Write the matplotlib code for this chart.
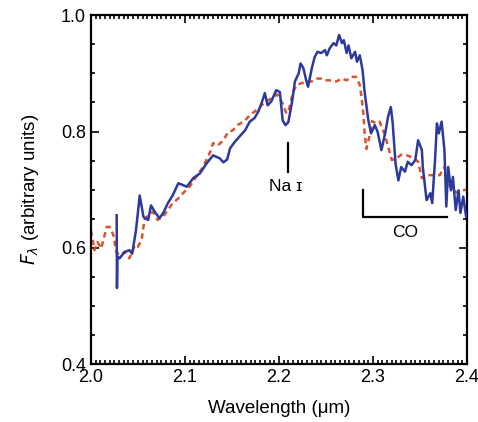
import matplotlib
matplotlib.use("Agg")
import matplotlib.pyplot as plt
from matplotlib.ticker import MultipleLocator

plt.rcParams['font.family'] = ['Liberation Sans', 'DejaVu Sans']

# observed spectrum (blue)
obs_wl = [2.0275, 2.0278, 2.0283, 2.0305, 2.036, 2.041, 2.044, 2.048, 2.052, 2.056,
          2.061, 2.064, 2.068, 2.073, 2.077, 2.082, 2.087, 2.093, 2.098, 2.102,
          2.109, 2.116, 2.123, 2.130, 2.137, 2.141, 2.145, 2.148, 2.153, 2.159,
          2.164, 2.169, 2.174, 2.178, 2.182, 2.185, 2.188, 2.192, 2.197, 2.201,
          2.204, 2.207, 2.210, 2.214, 2.217, 2.221, 2.223, 2.226, 2.229, 2.231,
          2.235, 2.238, 2.241, 2.245, 2.249, 2.251, 2.254, 2.258, 2.261, 2.264,
          2.267, 2.269, 2.272, 2.274, 2.277, 2.281, 2.283, 2.286, 2.289, 2.291,
          2.295, 2.298, 2.302, 2.305, 2.309, 2.313, 2.316, 2.319, 2.321, 2.324,
          2.327, 2.330, 2.334, 2.337, 2.341, 2.345, 2.348, 2.352, 2.353, 2.357,
          2.361, 2.363, 2.366, 2.368, 2.370, 2.373, 2.376, 2.378, 2.380, 2.383,
          2.385, 2.388, 2.391, 2.393, 2.396, 2.399]
obs_flux = [0.656, 0.531, 0.585, 0.582, 0.593, 0.596, 0.590, 0.630, 0.690, 0.653,
            0.648, 0.673, 0.662, 0.651, 0.660, 0.677, 0.690, 0.711, 0.708, 0.705,
            0.720, 0.728, 0.745, 0.759, 0.754, 0.747, 0.752, 0.771, 0.782, 0.793,
            0.802, 0.817, 0.823, 0.834, 0.851, 0.866, 0.845, 0.852, 0.871, 0.868,
            0.819, 0.811, 0.816, 0.851, 0.886, 0.900, 0.917, 0.909, 0.888, 0.877,
            0.909, 0.928, 0.937, 0.935, 0.940, 0.931, 0.943, 0.952, 0.948, 0.966,
            0.952, 0.957, 0.935, 0.948, 0.926, 0.937, 0.920, 0.931, 0.905, 0.870,
            0.820, 0.797, 0.811, 0.799, 0.768, 0.797, 0.825, 0.842, 0.814, 0.745,
            0.716, 0.739, 0.731, 0.748, 0.742, 0.751, 0.785, 0.768, 0.739, 0.682,
            0.694, 0.677, 0.751, 0.814, 0.797, 0.817, 0.768, 0.671, 0.739, 0.699,
            0.722, 0.665, 0.699, 0.660, 0.688, 0.654]

# model spectrum (red dashed)
mod_wl = [2.000, 2.004, 2.007, 2.011, 2.017, 2.020, 2.024, 2.027, 2.031, 2.036,
          2.041, 2.047, 2.050, 2.054, 2.057, 2.061, 2.066, 2.071, 2.077, 2.082,
          2.087, 2.093, 2.098, 2.105, 2.112, 2.119, 2.127, 2.130, 2.135, 2.141,
          2.146, 2.151, 2.156, 2.164, 2.169, 2.174, 2.180, 2.185, 2.190, 2.198,
          2.203, 2.208, 2.211, 2.215, 2.219, 2.224, 2.230, 2.235, 2.240, 2.245,
          2.251, 2.256, 2.261, 2.267, 2.272, 2.277, 2.282, 2.286, 2.288, 2.290,
          2.291, 2.293, 2.296, 2.299, 2.303, 2.307, 2.313, 2.320, 2.325, 2.330,
          2.336, 2.343, 2.348, 2.352, 2.357, 2.364, 2.371, 2.376, 2.382, 2.389,
          2.394, 2.400]
mod_flux = [0.630, 0.596, 0.610, 0.599, 0.636, 0.636, 0.622, 0.593, 0.587, 0.593,
            0.582, 0.605, 0.602, 0.613, 0.648, 0.656, 0.662, 0.648, 0.654, 0.665,
            0.677, 0.685, 0.694, 0.705, 0.722, 0.738, 0.765, 0.780, 0.776, 0.785,
            0.799, 0.802, 0.811, 0.819, 0.828, 0.834, 0.842, 0.851, 0.855, 0.864,
            0.851, 0.831, 0.840, 0.868, 0.880, 0.883, 0.886, 0.886, 0.891, 0.891,
            0.888, 0.888, 0.886, 0.891, 0.888, 0.894, 0.894, 0.880, 0.857, 0.828,
            0.800, 0.770, 0.790, 0.818, 0.814, 0.817, 0.793, 0.751, 0.754, 0.760,
            0.759, 0.755, 0.748, 0.720, 0.725, 0.725, 0.725, 0.739, 0.705, 0.695,
            0.699, 0.700]

fig = plt.figure(figsize=(4.78, 4.22), dpi=100)
ax = fig.add_axes([0.190, 0.137, 0.787, 0.827])

ax.plot(mod_wl, mod_flux, color='#d9532b', lw=1.8, ls=(0, (2.2, 1.6)), zorder=2)
ax.plot(obs_wl, obs_flux, color='#2b3a9c', lw=1.8, zorder=3)

# line identifications
ax.plot([2.2095, 2.2095], [0.730, 0.780], color='black', lw=1.6)
ax.text(2.2075, 0.706, 'Na ɪ', ha='center', va='center', fontsize=12.5)
ax.plot([2.2894, 2.2894, 2.379], [0.699, 0.653, 0.653], color='black', lw=1.6)
ax.text(2.334, 0.626, 'CO', ha='center', va='center', fontsize=12.5)

ax.set_xlim(2.0, 2.4)
ax.set_ylim(0.4, 1.0)
ax.xaxis.set_major_locator(MultipleLocator(0.1))
ax.xaxis.set_minor_locator(MultipleLocator(0.005))
ax.yaxis.set_major_locator(MultipleLocator(0.2))
ax.yaxis.set_minor_locator(MultipleLocator(0.05))
ax.tick_params(which='both', direction='in', top=True, right=True, labelsize=13, width=1.2)
ax.tick_params(which='major', length=6)
ax.tick_params(which='minor', length=3)
for s in ax.spines.values():
    s.set_linewidth(1.6)

ax.set_xlabel('Wavelength (μm)', fontsize=13.5, labelpad=10)
ax.set_ylabel(r'$F_\lambda$ (arbitrary units)', fontsize=13.5, labelpad=14)

fig.savefig('out.png', dpi=100)
